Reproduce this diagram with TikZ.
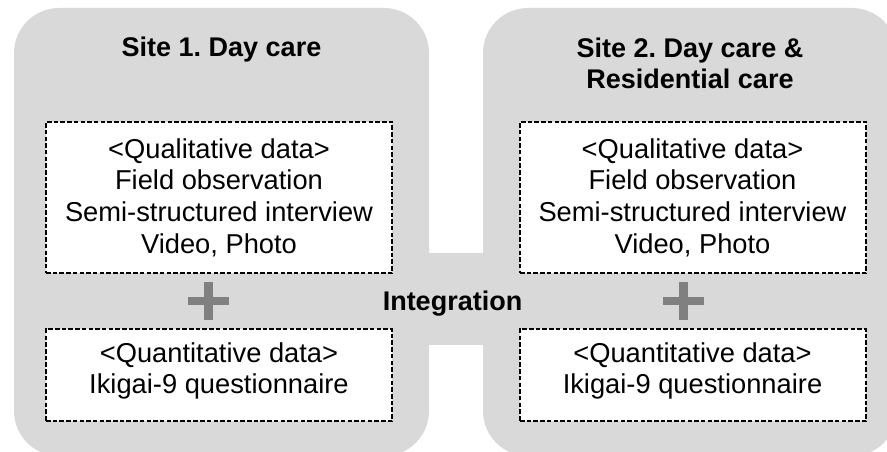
\documentclass[tikz,border=0pt]{standalone}
\usepackage{fontspec}
\setmainfont{Liberation Sans}
\frenchspacing
\definecolor{panelgray}{HTML}{D9D9D9}
\definecolor{plusgray}{HTML}{808080}
\tikzset{
  panel/.style={fill=panelgray, rounded corners=45pt},
  databox/.style={draw=black, fill=white, dash pattern=on 4.5pt off 2.2pt, line width=1.4pt, inner sep=0pt},
  bodytext/.style={align=center, inner sep=0pt, font=\fontsize{27.3}{31.6}\selectfont},
  titletext/.style={align=center, inner sep=0pt, font=\bfseries\fontsize{27}{31}\selectfont},
  plusbar/.style={fill=plusgray}
}
\begin{document}
\begin{tikzpicture}[x=1pt,y=-1pt]
\useasboundingbox (0,0) rectangle (887,452);
\begin{scope}
\clip (0,0) rectangle (887,452);
\fill[panel] (14,8) rectangle (429,456);
\fill[panel] (483,8) rectangle (897,456);
\fill[panelgray] (425,253) rectangle (487,345);
\end{scope}
% dashed boxes
\node[databox, minimum width=346pt, minimum height=151pt] (ql1) at (219,197.5) {};
\node[databox, minimum width=346pt, minimum height=92pt] (qn1) at (219,375) {};
\node[databox, minimum width=346pt, minimum height=151pt] (ql2) at (693,197.5) {};
\node[databox, minimum width=346pt, minimum height=92pt] (qn2) at (693,375) {};
% titles
\node[titletext, anchor=base] (t1) at (221.5,57) {Site 1. Day care};
\node[titletext, anchor=center] (t2) at (690,63) {Site 2. Day care \&\\Residential care};
\node[titletext, anchor=base] (integ) at (452.5,310) {Integration};
% texts
\node[bodytext] (ql1t) at (219,197.5) {<Qualitative data>\\Field observation\\Semi-structured interview\\Video, Photo};
\node[bodytext] (qn1t) at (219,371) {<Quantitative data>\\Ikigai-9 questionnaire};
\node[bodytext] (ql2t) at (692.5,197.5) {<Qualitative data>\\Field observation\\Semi-structured interview\\Video, Photo};
\node[bodytext] (qn2t) at (692.5,371) {<Quantitative data>\\Ikigai-9 questionnaire};
% plus signs
\coordinate (p1) at (208.5,301);
\coordinate (p2) at (683.5,301);
\foreach \p in {p1,p2}{
  \fill[plusgray] ([xshift=-20.5pt,yshift=4pt]\p) rectangle ([xshift=20.5pt,yshift=-4pt]\p);
  \fill[plusgray] ([xshift=-4.5pt,yshift=19pt]\p) rectangle ([xshift=4.5pt,yshift=-19pt]\p);
}
\end{tikzpicture}
\end{document}
